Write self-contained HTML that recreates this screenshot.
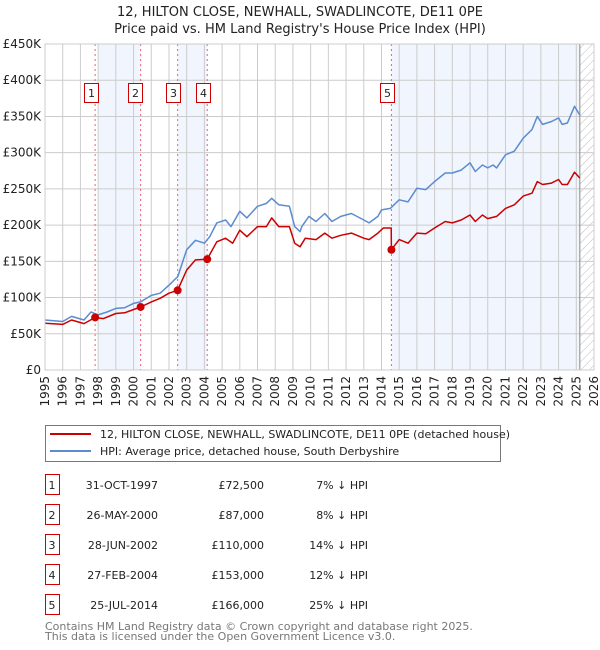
<!DOCTYPE html>
<html><head><meta charset="utf-8"><style>
html,body{margin:0;padding:0;background:#fff;}
svg{display:block;font-family:"DejaVu Sans","Liberation Sans",sans-serif;}
</style></head><body>
<svg id="chart" width="600" height="650" viewBox="0 0 600 650" xmlns="http://www.w3.org/2000/svg">
<defs>
<pattern id="hatch" patternUnits="userSpaceOnUse" width="6" height="6" patternTransform="rotate(45)">
<line x1="0" y1="0" x2="0" y2="6" stroke="#bbb" stroke-width="1"/>
</pattern>
</defs>
<text x="300" y="16" text-anchor="middle" font-size="13" fill="#222">12, HILTON CLOSE, NEWHALL, SWADLINCOTE, DE11 0PE</text>
<text x="300" y="33" text-anchor="middle" font-size="13" fill="#222">Price paid vs. HM Land Registry's House Price Index (HPI)</text>
<g id="plot"></g>
<g id="legend">
<rect x="45.5" y="425.5" width="455" height="36" fill="#fff" stroke="#777"/>
<line x1="50" y1="434" x2="91" y2="434" stroke="#cc0000" stroke-width="2"/>
<text x="100" y="438" font-size="11" fill="#222">12, HILTON CLOSE, NEWHALL, SWADLINCOTE, DE11 0PE (detached house)</text>
<line x1="50" y1="451" x2="91" y2="451" stroke="#5b8bd0" stroke-width="2"/>
<text x="100" y="455" font-size="11" fill="#222">HPI: Average price, detached house, South Derbyshire</text>
</g>
<g id="table"></g>
<text x="45" y="630" font-size="11" fill="#777">Contains HM Land Registry data © Crown copyright and database right 2025.</text>
<text x="45" y="640" font-size="11" fill="#777">This data is licensed under the Open Government Licence v3.0.</text>
</svg>
<script>
const hpiYears=[1995,1996,1996.5,1997.2,1997.6,1998,1998.5,1999,1999.5,2000,2000.4,2001,2001.5,2002,2002.5,2003,2003.5,2004,2004.3,2004.7,2005.2,2005.5,2006,2006.4,2007,2007.5,2007.8,2008.2,2008.8,2009.1,2009.4,2009.5,2009.9,2010.3,2010.8,2011.2,2011.7,2012.3,2013,2013.3,2013.8,2014,2014.5,2015,2015.5,2016,2016.5,2017,2017.6,2018,2018.5,2019,2019.3,2019.7,2020,2020.3,2020.5,2021,2021.5,2022,2022.5,2022.8,2023.1,2023.6,2024,2024.2,2024.5,2024.9,2025.2];
const hpiValues=[69,67,74,69,80,76,80,85,86,92,94,103,106,117,129,166,179,175,184,203,207,198,219,210,226,230,237,228,226,198,191,198,212,205,216,205,212,216,207,203,212,221,223,235,232,251,249,260,272,272,276,286,274,283,279,283,279,297,302,320,332,350,339,343,348,339,341,364,352];
const ppYears=[1995,1996,1996.5,1997.2,1997.83,1998.3,1999,1999.5,2000.4,2001,2001.5,2002,2002.49,2003,2003.5,2004.16,2004.7,2005.2,2005.6,2006,2006.4,2007,2007.5,2007.8,2008.2,2008.8,2009.1,2009.4,2009.7,2010.3,2010.8,2011.2,2011.7,2012.3,2013,2013.3,2013.8,2014.1,2014.55,2014.56,2015,2015.5,2016,2016.5,2017,2017.6,2018,2018.5,2019,2019.3,2019.7,2020,2020.5,2021,2021.5,2022,2022.5,2022.8,2023.1,2023.6,2024,2024.2,2024.5,2024.9,2025.2];
const ppValues=[64.5,63,69,64,72.5,71,78,79,87,94,99,106,110,138,152,153,177,182,175,193,184,198,198,210,198,198,175,170,182,180,189,182,186,189,182,180,189,196,196,166,180,175,189,188,196,205,203,207,214,205,214,209,212,223,228,240,244,260,256,258,263,256,256,273,265];
const saleLabels=["1","2","3","4","5"];
const saleYears=[1997.83,2000.4,2002.49,2004.16,2014.56];
const saleValues=[72.5,87,110,153,166];
const saleDates=["31-OCT-1997","26-MAY-2000","28-JUN-2002","27-FEB-2004","25-JUL-2014"];
const salePrices=["£72,500","£87,000","£110,000","£153,000","£166,000"];
const saleDiffs=["7% ↓ HPI","8% ↓ HPI","14% ↓ HPI","12% ↓ HPI","25% ↓ HPI"];
const yTicks=[0,50,100,150,200,250,300,350,400,450];
const yTickLabels=["£0","£50K","£100K","£150K","£200K","£250K","£300K","£350K","£400K","£450K"];
const xTicks=[1995,1996,1997,1998,1999,2000,2001,2002,2003,2004,2005,2006,2007,2008,2009,2010,2011,2012,2013,2014,2015,2016,2017,2018,2019,2020,2021,2022,2023,2024,2025,2026];
const dataEnd=2025.2;

const X0=45,X1=594,Y0=370,Y1=44;
const xs=y=>X0+(y-1995)/(2026-1995)*(X1-X0);
const ys=v=>Y0-v/450*(Y0-Y1);
const NS="http://www.w3.org/2000/svg";
const plot=document.getElementById('plot');
function mk(tag,attrs,parent){const e=document.createElementNS(NS,tag);for(const k in attrs)e.setAttribute(k,attrs[k]);(parent||plot).appendChild(e);return e;}

// shading
const shades=[[1998,saleYears[1]],[saleYears[2],saleYears[3]],[saleYears[4],dataEnd]];
shades.forEach((s,i)=>{const r=mk('rect',{x:xs(s[0]),y:Y1,width:xs(s[1])-xs(s[0]),height:Y0-Y1,fill:'#eef3fc',opacity:0.8});

});
const h=mk('rect',{x:xs(dataEnd),y:Y1,width:X1-xs(dataEnd),height:Y0-Y1,fill:'url(#hatch)'});


// grid
xTicks.forEach(t=>{const l=mk('line',{x1:xs(t),x2:xs(t),y1:Y1,y2:Y0,stroke:'#ccc','stroke-width':1});


const tx=mk('text',{x:0,y:0,transform:`translate(${xs(t)+4},${Y0+6}) rotate(-90)`,'text-anchor':'end','font-size':12,fill:'#222'});
tx.textContent=t;

});
yTicks.forEach((t,i)=>{const l=mk('line',{x1:X0,x2:X1,y1:ys(t),y2:ys(t),stroke:'#ccc','stroke-width':1});


const tx=mk('text',{x:X0-4,y:ys(t)+4,'text-anchor':'end','font-size':12,fill:'#222'});
tx.textContent=yTickLabels[i];

});
const el=mk('line',{x1:xs(dataEnd),x2:xs(dataEnd),y1:Y1,y2:Y0,stroke:'#888','stroke-width':1});


// sale vlines
saleYears.forEach((y,i)=>{const l=mk('line',{x1:xs(y),x2:xs(y),y1:Y1,y2:Y0,stroke:'#f06070','stroke-width':1,'stroke-dasharray':'2,3'});


const bx=xs(y)-(i==3||i==4?14:i==1||i==2?7:7)-((i==1||i==2)?7:0);
const gx=(i==0)?xs(y)-10:xs(y)-21+((i==3)?12:0)+((i==4)?0:0);
let rx;
if(i==0)rx=xs(y)-10;else if(i==1)rx=xs(y)-10;else if(i==2)rx=xs(y)-10;else rx=xs(y)-10;
rx=[84,128,166,196,380][i];
const r=mk('rect',{x:rx+0.5,y:83.5,width:14,height:19,fill:'#fff',stroke:'#cc0000'});


const t=mk('text',{x:rx+7.5,y:97,'text-anchor':'middle','font-size':11,fill:'#222'});
t.textContent=saleLabels[i];

});
function path(xsArr,vs,color,name){let d='';xsArr.forEach((y,i)=>{d+=(i?'L':'M')+xs(y).toFixed(1)+','+ys(vs[i]).toFixed(1);});
const p=mk('path',{d:d,fill:'none',stroke:color,'stroke-width':1.5,'stroke-linejoin':'round'});

}
path(hpiYears,hpiValues,'#5b8bd0','hpi-line');
path(ppYears,ppValues,'#cc0000','price-paid-line');
saleYears.forEach((y,i)=>{const c=mk('circle',{cx:xs(y),cy:ys(saleValues[i]),r:4,fill:'#cc0000'});

});
const fr=mk('rect',{x:X0,y:Y1,width:X1-X0,height:Y0-Y1,fill:'none',stroke:'#ccc'});


// table
const tb=document.getElementById('table');
saleLabels.forEach((s,i)=>{const cy=485+i*30;
const r=mk('rect',{x:45.5,y:cy-10.5,width:14,height:20,fill:'#fff',stroke:'#cc0000'},tb);


const cells=[[52,s,'middle'],[158,saleDates[i],'end'],[264,salePrices[i],'end'],[368,saleDiffs[i],'end']];
cells.forEach((c,j)=>{const t=mk('text',{x:c[0],y:cy+4,'text-anchor':c[2],'font-size':11,fill:'#222'},tb);
t.textContent=c[1];

});});
</script>
</body></html>
